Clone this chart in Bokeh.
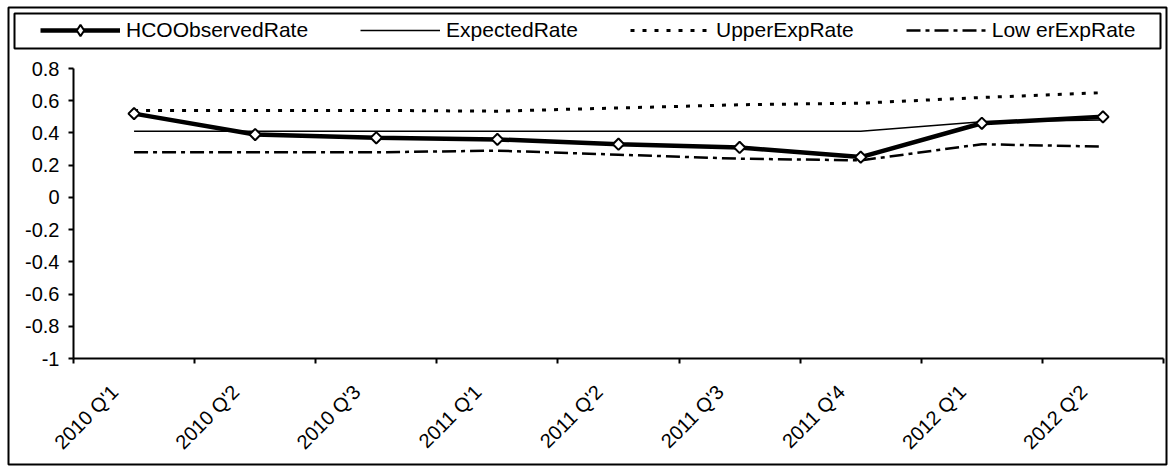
import math
from bokeh.plotting import figure
from bokeh.models import (FactorRange, Range1d, LinearAxis, FixedTicker,
                          Legend, LegendItem, ColumnDataSource)
from bokeh.embed import file_html
from bokeh.resources import INLINE

# ---- data ----
quarters = ["2010 Q'1", "2010 Q'2", "2010 Q'3", "2011 Q'1", "2011 Q'2",
            "2011 Q'3", "2011 Q'4", "2012 Q'1", "2012 Q'2"]
observed = [0.52, 0.39, 0.37, 0.36, 0.33, 0.31, 0.25, 0.46, 0.50]
expected = [0.41, 0.41, 0.41, 0.41, 0.41, 0.41, 0.41, 0.47, 0.48]
upper = [0.54, 0.54, 0.54, 0.535, 0.555, 0.575, 0.585, 0.62, 0.65]
lower = [0.28, 0.28, 0.28, 0.29, 0.265, 0.24, 0.23, 0.33, 0.315]
series_names = ["HCOObservedRate", "ExpectedRate", "UpperExpRate", "Low erExpRate"]
y_ticks = [-1, -0.8, -0.6, -0.4, -0.2, 0, 0.2, 0.4, 0.6, 0.8]
y_tick_labels = ["-1", "-0.8", "-0.6", "-0.4", "-0.2", "0", "0.2", "0.4", "0.6", "0.8"]

FONT = "Liberation Sans"

src = ColumnDataSource(dict(q=quarters, obs=observed, exp=expected, up=upper, lo=lower))

STYLES = {
    "up": dict(line_color="black", line_width=3, line_dash="4 8"),
    "lo": dict(line_color="black", line_width=2.5, line_dash="14 5 4 5"),
    "exp": dict(line_color="black", line_width=1.5),
    "obs": dict(line_color="black", line_width=4.5),
}


def add_series(fig, marker):
    r_up = fig.line("q", "up", source=src, **STYLES["up"])
    r_lo = fig.line("q", "lo", source=src, **STYLES["lo"])
    r_exp = fig.line("q", "exp", source=src, **STYLES["exp"])
    r_obs = fig.line("q", "obs", source=src, **STYLES["obs"])
    r_obs_m = fig.scatter("q", "obs", source=src, fill_color="white",
                          line_color="black", line_width=2, **marker)
    return r_up, r_lo, r_exp, r_obs, r_obs_m


# ---- main chart ----
p_main = figure(width=1162, height=461,
                x_range=FactorRange(factors=quarters, range_padding=0),
                y_range=Range1d(-1, 0.8),
                x_axis_type=None, y_axis_type=None,
                output_backend="svg", toolbar_location=None,
                min_border_left=67, min_border_right=5, min_border_top=63, min_border_bottom=108,
                styles={"position": "absolute", "left": "6px", "top": "5px"})
p_main.outline_line_color = None
p_main.background_fill_color = "white"
p_main.border_fill_color = "white"
add_series(p_main, dict(marker="square", angle=math.pi / 4, size=8))

yaxis = LinearAxis(ticker=FixedTicker(ticks=y_ticks, minor_ticks=[]),
                   major_label_overrides=dict(zip(y_ticks, y_tick_labels)),
                   axis_line_width=2, axis_line_color="black",
                   major_tick_out=5, major_tick_in=0, major_tick_line_width=2,
                   minor_tick_out=0, minor_tick_in=0,
                   major_label_text_font=FONT, major_label_text_font_size="20px",
                   major_label_text_color="black", major_label_standoff=9)
p_main.add_layout(yaxis, "left")

n = len(quarters)
x_bounds = list(range(n + 1))               # category boundaries (synthetic coords)
x_label_pos = [i + 0.34 for i in range(n)]  # where the rotated labels end
xaxis = LinearAxis(ticker=FixedTicker(ticks=x_label_pos, minor_ticks=x_bounds),
                   major_label_overrides=dict(zip(x_label_pos, quarters)),
                   axis_line_width=2, axis_line_color="black",
                   major_tick_out=5, major_tick_in=0, major_tick_line_color=None,
                   minor_tick_out=5, minor_tick_in=0, minor_tick_line_width=2,
                   minor_tick_line_color="black",
                   major_label_orientation=math.pi / 4,
                   major_label_text_font=FONT, major_label_text_font_size="20px",
                   major_label_text_color="black", major_label_standoff=25)
p_main.add_layout(xaxis, "below")

# ---- outer chart border (frame outline of a transparent overlay) ----
p_frame = figure(width=1162, height=461, x_range=(0, 1), y_range=(0, 1),
                 x_axis_type=None, y_axis_type=None,
                 output_backend="svg", toolbar_location=None,
                 min_border_left=2, min_border_right=2, min_border_top=2, min_border_bottom=2,
                 styles={"position": "absolute", "left": "6px", "top": "5px"})
p_frame.outline_line_color = "black"
p_frame.outline_line_width = 2
p_frame.background_fill_color = None
p_frame.border_fill_color = None

# ---- legend box (its frame is the legend border) ----
p_leg = figure(width=1150, height=39,
               x_range=FactorRange(factors=quarters, range_padding=0),
               y_range=Range1d(10, 11),
               x_axis_type=None, y_axis_type=None,
               output_backend="svg", toolbar_location=None,
               min_border_left=2, min_border_right=2, min_border_top=2, min_border_bottom=2,
               styles={"position": "absolute", "left": "12px", "top": "11px"})
p_leg.outline_line_color = "black"
p_leg.outline_line_width = 2
p_leg.background_fill_color = "white"
p_leg.border_fill_color = "white"
l_up, l_lo, l_exp, l_obs, l_obs_m = add_series(p_leg, dict(marker="diamond", size=12))

legend = Legend(items=[LegendItem(label=series_names[0], renderers=[l_obs, l_obs_m]),
                       LegendItem(label=series_names[1], renderers=[l_exp]),
                       LegendItem(label=series_names[2], renderers=[l_up]),
                       LegendItem(label=series_names[3], renderers=[l_lo])],
                location=(26, 4), orientation="horizontal",
                glyph_width=80, glyph_height=28, label_height=28, label_standoff=6,
                spacing=52, padding=0, margin=0,
                border_line_color=None, background_fill_alpha=0,
                label_text_font=FONT, label_text_font_size="21px", label_text_color="black")
p_leg.add_layout(legend)

p = (p_main, p_frame, p_leg)
open("out.html", "w").write(file_html(p, INLINE))
